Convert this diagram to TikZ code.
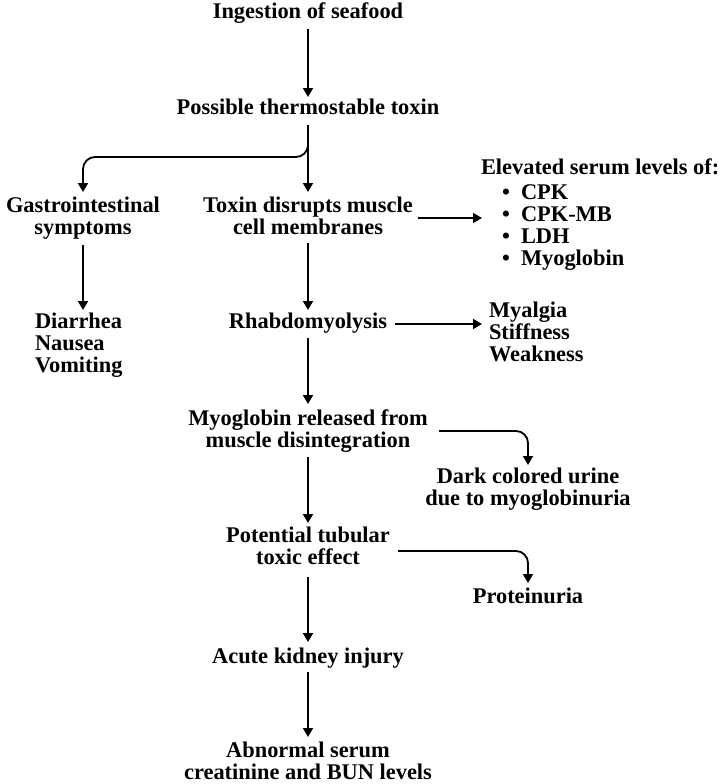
\documentclass[tikz,border=0pt]{standalone}
\usepackage{fontspec}
\setmainfont{Liberation Serif}
\usetikzlibrary{arrows.meta}
\tikzset{
  txt/.style={font=\fontsize{22.4}{22}\selectfont\bfseries, inner sep=0pt, outer sep=0pt, align=center, anchor=base},
  ltxt/.style={txt, align=left, anchor=base west},
  arr/.style={line width=1.8pt, -{Triangle[length=9pt,width=10pt]}},
  elbow/.style={arr, rounded corners=12pt}
}
\newcommand{\bitem}[1]{\hspace*{21pt}\makebox[19pt][l]{•}#1}
\begin{document}
\begin{tikzpicture}[x=1pt,y=1pt]
\useasboundingbox (0,0) rectangle (722,-784);
% base anchor of a multi-line node = baseline of its last line
\node[txt] (ing) at (308,-19) {Ingestion of seafood};
\node[txt] (pos) at (308,-114) {Possible thermostable toxin};
\node[txt] (gas) at (83,-234) {Gastrointestinal\\symptoms};
\node[txt] (tox) at (308,-234) {Toxin disrupts muscle\\cell membranes};
\node[ltxt] (elev) at (481,-265) {Elevated serum levels of:\\[3pt]\bitem{CPK}\\\bitem{CPK-MB}\\\bitem{LDH}\\\bitem{Myoglobin}};
\node[ltxt] (dnv) at (35,-372) {Diarrhea\\Nausea\\Vomiting};
\node[txt] (rha) at (308,-328) {Rhabdomyolysis};
\node[ltxt] (msw) at (489,-361) {Myalgia\\Stiffness\\Weakness};
\node[txt] (myo) at (308,-447) {Myoglobin released from\\muscle disintegration};
\node[txt] (dark) at (528,-505) {Dark colored urine\\due to myoglobinuria};
\node[txt] (pot) at (308,-564) {Potential tubular\\toxic effect};
\node[txt] (pro) at (528,-603) {Proteinuria};
\node[txt] (aki) at (308,-663) {Acute kidney injury};
\node[txt] (abn) at (308,-779) {Abnormal serum\\creatinine and BUN levels};

\draw[arr] ([yshift=-10pt]ing.base) -- ([yshift=17pt]pos.base);
\draw[arr] ([yshift=-11pt]pos.base) -- ([yshift=42pt]tox.base);
\draw[elbow] ([yshift=-11pt]pos.base) -- ([yshift=-43pt]pos.base) -| ([yshift=42pt]gas.base);
\draw[arr] ([shift={(110pt,16pt)}]tox.base) -- ([shift={(1pt,47pt)}]elev.base west);
\draw[arr] ([yshift=-11pt]gas.base) -- ([shift={(48pt,62pt)}]dnv.base west);
\draw[arr] ([yshift=-9pt]tox.base) -- ([yshift=18pt]rha.base);
\draw[arr] ([shift={(87pt,4pt)}]rha.base) -- ([shift={(-7pt,37pt)}]msw.base west);
\draw[arr] ([yshift=-10pt]rha.base) -- ([yshift=43pt]myo.base);
\draw[elbow] ([shift={(131pt,16pt)}]myo.base) -| ([yshift=40pt]dark.base);
\draw[arr] ([yshift=-10pt]myo.base) -- ([yshift=41pt]pot.base);
\draw[elbow] ([shift={(90pt,13pt)}]pot.base) -| ([yshift=20pt]pro.base);
\draw[arr] ([yshift=-13pt]pot.base) -- ([yshift=21pt]aki.base);
\draw[arr] ([yshift=-9pt]aki.base) -- ([yshift=42pt]abn.base);
\end{tikzpicture}
\end{document}
